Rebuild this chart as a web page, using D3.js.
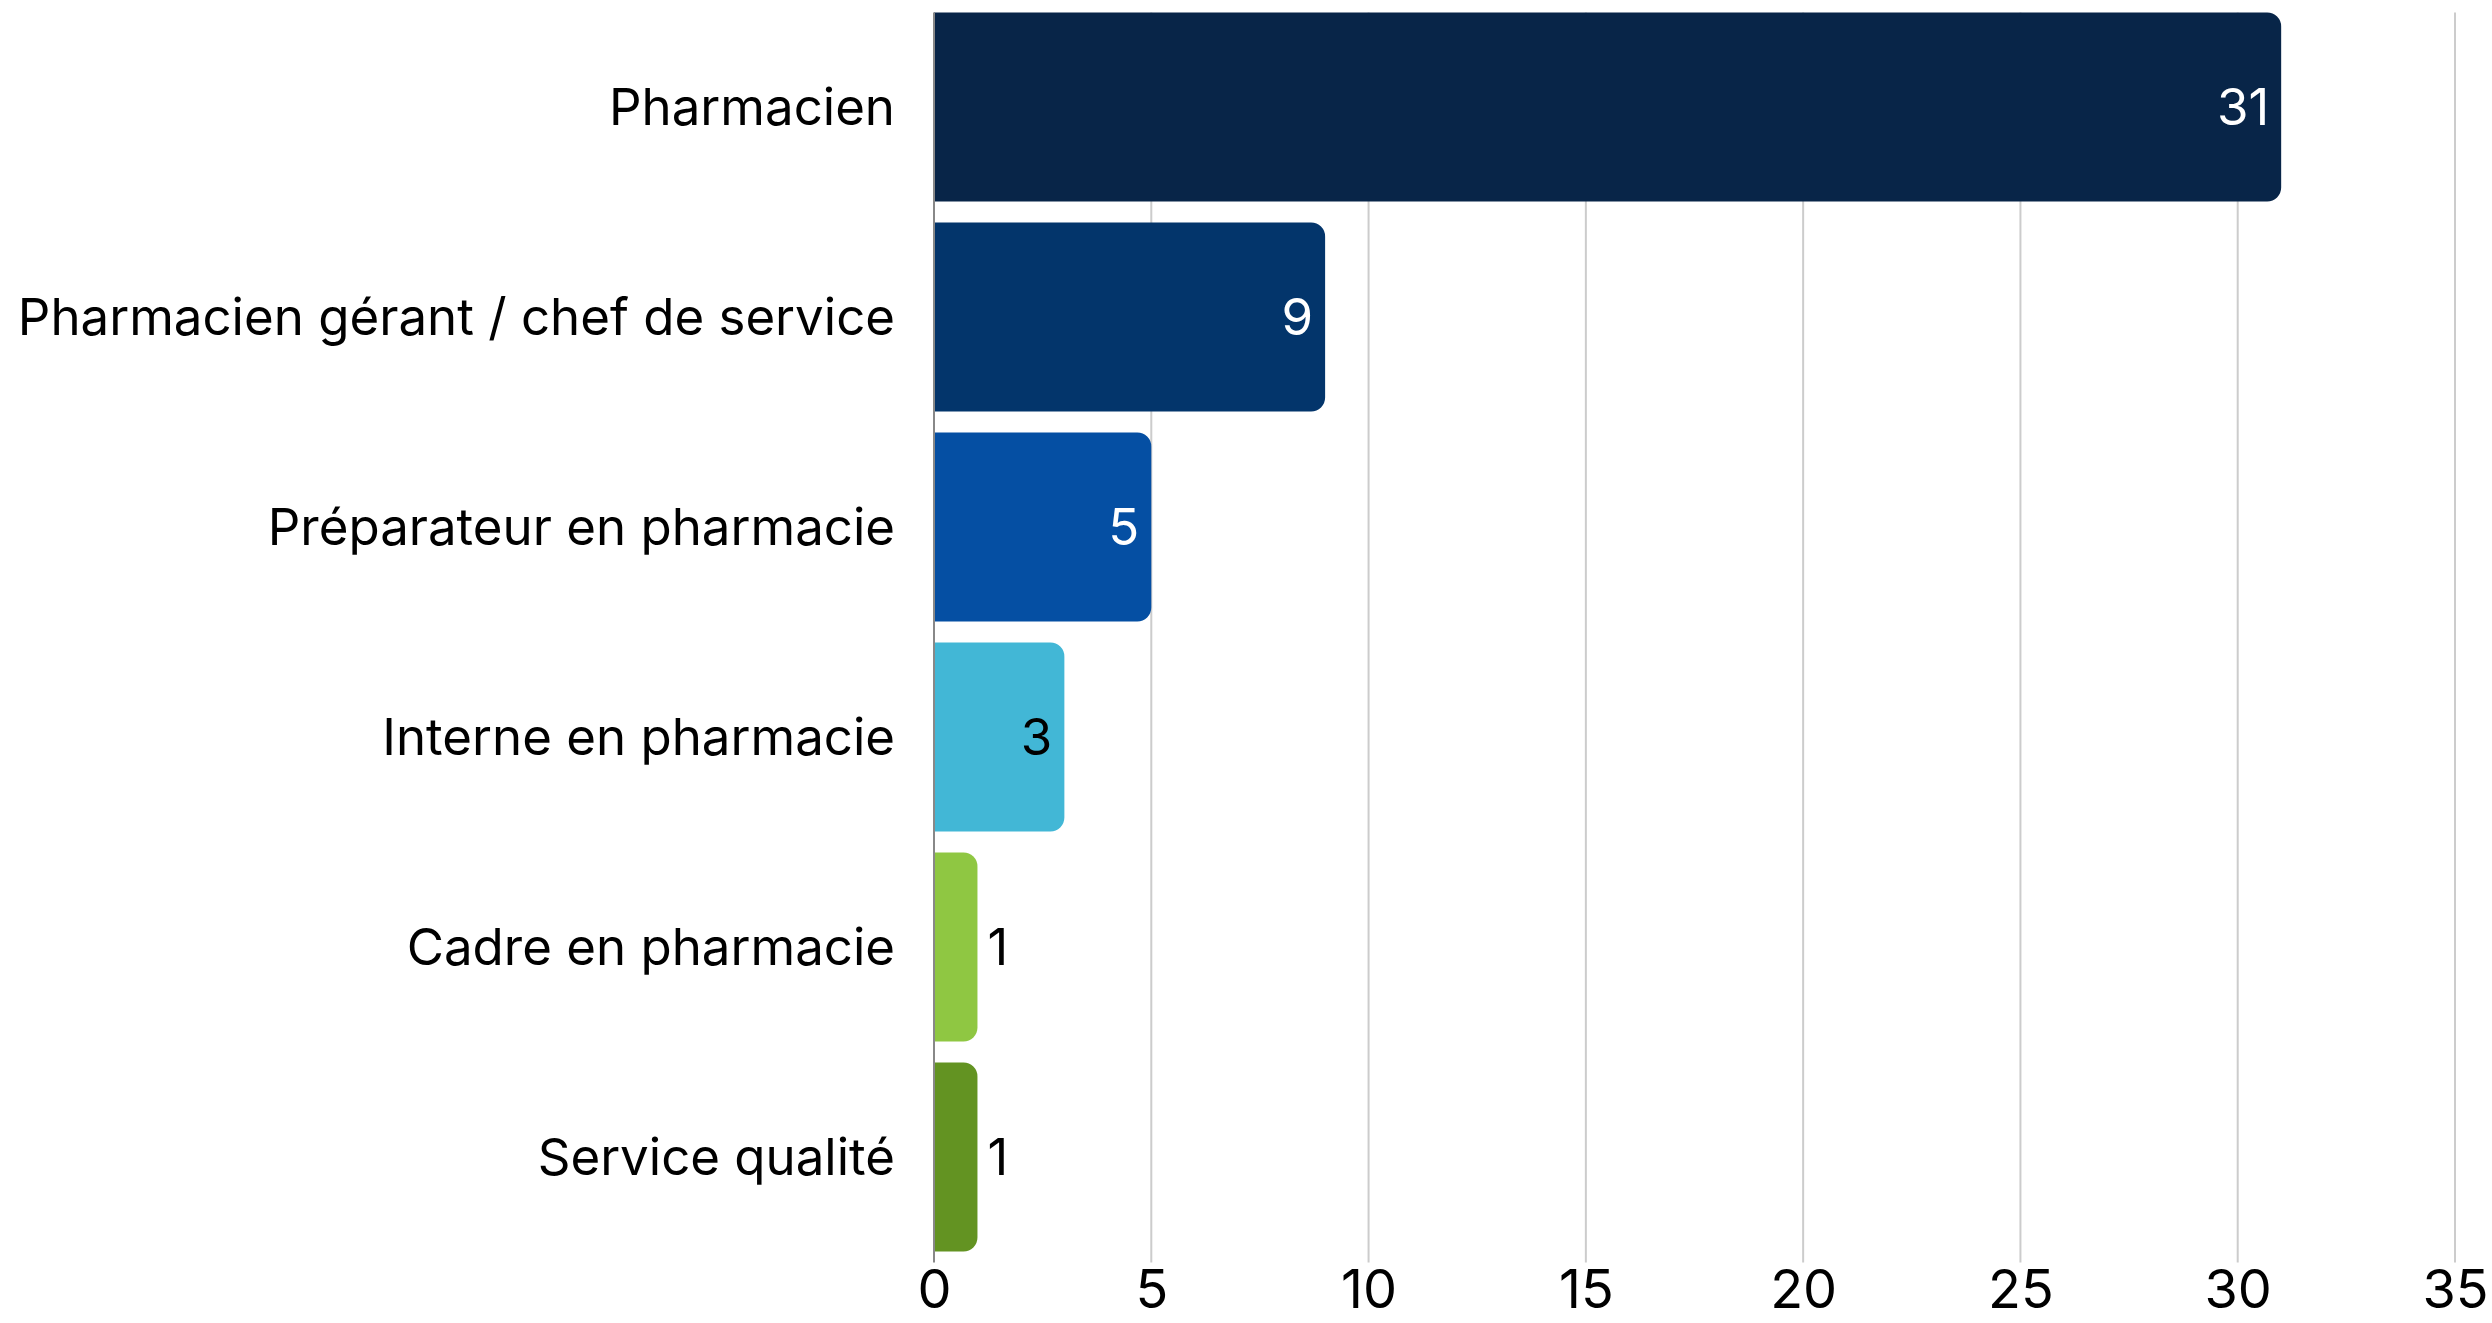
<!DOCTYPE html>
<html>
<head>
<meta charset="utf-8">
<script src="https://cdn.jsdelivr.net/npm/d3@7"></script>
<style>
  body { margin: 0; background: #fff; }
  text { font-family: Inter, "Noto Sans", sans-serif; }
</style>
</head>
<body>
<div id="my_dataviz"></div>
<script>

// add data
var categories = [
  "Pharmacien",
  "Pharmacien gérant / chef de service",
  "Préparateur en pharmacie",
  "Interne en pharmacie",
  "Cadre en pharmacie",
  "Service qualité"
];
var values = [31, 9, 5, 3, 1, 1];
var colors = ["#082548", "#03356b", "#054fa3", "#42b7d6", "#8fc742", "#639322"];
var labelColors = ["#fff", "#fff", "#fff", "#000", "#000", "#000"];
var ticks = [0, 5, 10, 15, 20, 25, 30, 35];

var data = categories.map(function(c, i) {
  return {name: c, value: values[i], color: colors[i], labelColor: labelColors[i]};
});

// set the graph
var margin = {top: 2, right: 37, bottom: 61, left: 934},
    width = 2492 - margin.left - margin.right,
    height = 1323 - margin.top - margin.bottom;

// svg
var svg = d3.select("#my_dataviz")
  .append("svg")
    .attr("width", width + margin.left + margin.right)
    .attr("height", height + margin.top + margin.bottom)
  .append("g")
    .attr("transform", "translate(" + margin.left + "," + margin.top + ")");

// scales
var x = d3.scaleLinear()
  .domain([0, 35])
  .range([0, width]);

var y = d3.scaleBand()
  .domain(categories)
  .range([0, height])
  .paddingInner(0.1)
  .paddingOuter(0.05);

var top0 = y(categories[0]);
var bottom0 = y(categories[categories.length - 1]) + y.bandwidth() + 11;

// grid lines
svg.append("g")
  .selectAll("line")
  .data(ticks.slice(1))
  .enter()
  .append("line")
    .attr("x1", function(d) { return x(d); })
    .attr("x2", function(d) { return x(d); })
    .attr("y1", top0)
    .attr("y2", bottom0)
    .attr("stroke", "#cccccc")
    .attr("stroke-width", 2);

// x axis labels
var xAxis = svg.append("g")
  .attr("transform", "translate(0," + bottom0 + ")")
  .call(d3.axisBottom(x).tickValues(ticks).tickSize(0).tickPadding(7));
xAxis.select(".domain").remove();
xAxis.selectAll("text")
  .attr("font-family", "Inter")
  .attr("font-size", 54)
  .attr("fill", "#000");

// bars with rounded right end
var r = 14;
function barPath(d) {
  var x0 = x(0), x1 = x(d.value), y0 = y(d.name), h = y.bandwidth();
  var rr = Math.min(r, (x1 - x0) / 2);
  return "M" + x0 + "," + y0 +
    "H" + (x1 - rr) +
    "A" + rr + "," + rr + " 0 0 1 " + x1 + "," + (y0 + rr) +
    "V" + (y0 + h - rr) +
    "A" + rr + "," + rr + " 0 0 1 " + (x1 - rr) + "," + (y0 + h) +
    "H" + x0 + "Z";
}

svg.append("g")
  .selectAll("path")
  .data(data)
  .enter()
  .append("path")
    .attr("d", barPath)
    .attr("fill", function(d) { return d.color; });

// zero line
svg.append("line")
  .attr("x1", x(0))
  .attr("x2", x(0))
  .attr("y1", top0)
  .attr("y2", bottom0)
  .attr("stroke", "#888888")
  .attr("stroke-width", 2);

// category labels
svg.append("g")
  .selectAll("text")
  .data(data)
  .enter()
  .append("text")
    .attr("x", -39)
    .attr("y", function(d) { return y(d.name) + y.bandwidth() / 2; })
    .attr("dy", "0.35em")
    .attr("text-anchor", "end")
    .attr("font-size", 51)
    .attr("fill", "#000")
    .text(function(d) { return d.name; });

// value labels
svg.append("g")
  .selectAll("text")
  .data(data)
  .enter()
  .append("text")
    .attr("x", function(d) { return d.value > 2 ? x(d.value) - 12 : x(d.value) + 10; })
    .attr("y", function(d) { return y(d.name) + y.bandwidth() / 2; })
    .attr("dy", "0.35em")
    .attr("text-anchor", function(d) { return d.value > 2 ? "end" : "start"; })
    .attr("font-size", 51)
    .attr("fill", function(d) { return d.labelColor; })
    .text(function(d) { return d.value; });

</script>
</body>
</html>
